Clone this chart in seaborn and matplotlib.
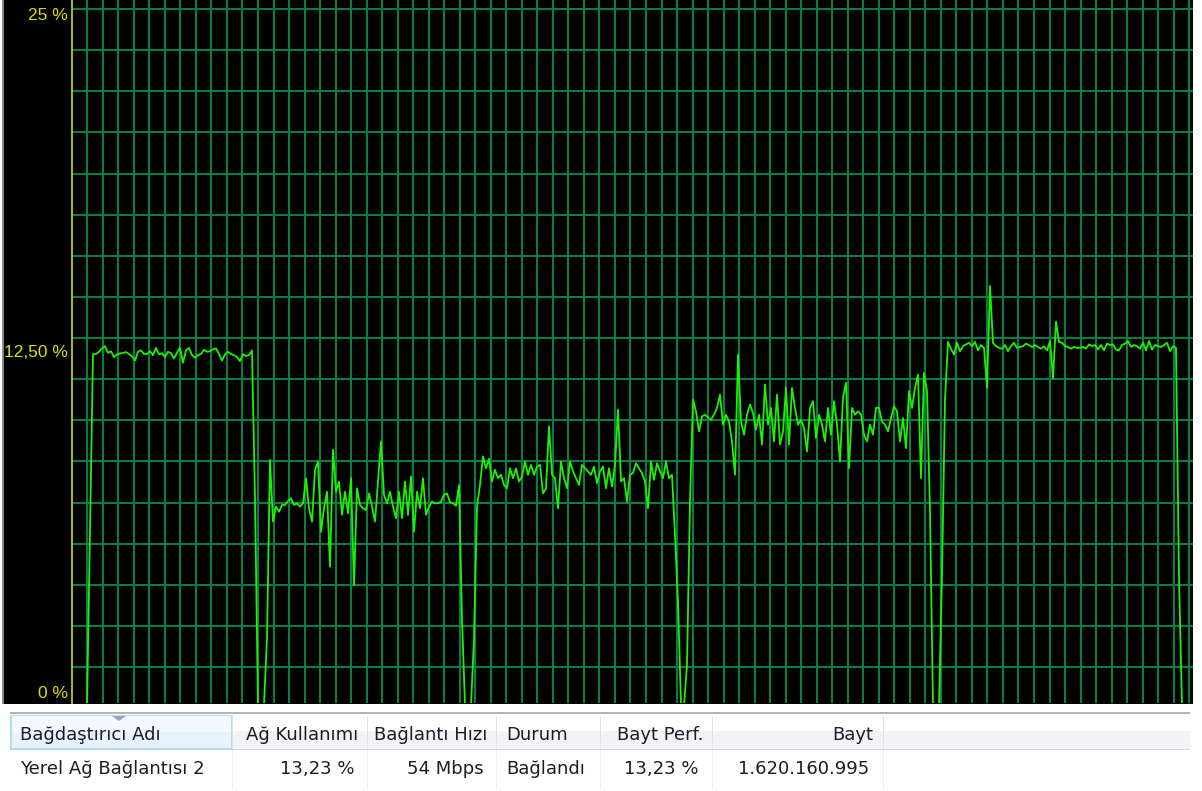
import numpy as np
import matplotlib
matplotlib.use("Agg")
import matplotlib.pyplot as plt
from matplotlib.patches import Rectangle, Polygon
import seaborn as sns
import pandas as pd

# Network utilisation history (percent of link speed), sampled at a fixed rate.
lead_in = [0, 0, 0, 0, 0, 0, 6.2]
plateau_1 = [
    12.45, 12.45, 12.53, 12.65, 12.73, 12.49, 12.55, 12.34, 12.44, 12.47,
    12.49, 12.52, 12.45, 12.37, 12.22, 12.53, 12.58, 12.45, 12.45, 12.55,
    12.41, 12.67, 12.44, 12.48, 12.34, 12.53, 12.48, 12.29, 12.50, 12.67,
    12.14, 12.58, 12.67, 12.41, 12.32, 12.41, 12.45, 12.60, 12.53, 12.55,
    12.62, 12.65, 12.45, 12.22, 12.44, 12.53, 12.45, 12.41, 12.34, 12.20,
    12.44, 12.38, 12.41, 12.58,
]
gap_1 = [7.33, 0.0, 0.0, 0.0, 2.42, 8.7]
plateau_2 = [
    6.51, 7.04, 6.86, 7.10, 7.10, 7.24, 7.34, 7.10, 7.16, 7.04,
    7.16, 8.05, 6.98, 6.51, 8.35, 8.64, 6.15, 6.98, 7.57, 4.91,
    9.06, 7.57, 7.93, 6.75, 7.57, 6.80, 8.05, 4.26, 7.69, 7.10,
    6.98, 6.92, 7.51, 7.04, 6.51, 7.93, 9.35, 7.46, 7.16, 7.57,
    7.04, 6.63, 7.57, 6.63, 7.93, 6.75, 8.11, 6.15, 7.57, 6.98,
    8.05, 6.75, 7.04, 7.22, 7.16, 7.16, 7.22, 7.46, 7.51, 7.20,
    7.16, 7.07, 7.80,
]
gap_2 = [3.06, 0.0, 0.0, 0.0, 2.35]
plateau_3 = [
    7.04, 7.81, 8.82, 8.40, 8.74, 7.93, 8.35, 8.05, 8.17, 7.81,
    7.69, 8.40, 8.05, 8.40, 7.93, 8.11, 8.64, 8.17, 8.52, 8.17,
    8.46, 8.52, 7.51, 7.69, 9.89, 8.17, 8.05, 6.98, 8.64, 8.05,
    7.69, 8.64, 8.29, 8.05, 7.81, 8.52, 8.40, 8.29, 8.17, 8.46,
    7.87, 8.29, 8.46, 7.69, 8.40, 7.75, 8.52, 10.48, 7.93, 8.05,
    7.22, 8.17, 8.23, 8.58, 8.40, 8.23, 7.93, 6.98, 8.64, 7.99,
    8.58, 8.29, 8.05, 8.64, 8.05, 8.17,
]
gap_3 = [6.03, 3.66, 0.0, 0.0, 1.42, 7.22]
plateau_4 = [
    10.84, 10.42, 9.71, 10.24, 10.30, 10.20, 10.12, 10.30, 10.54, 11.01,
    9.95, 10.30, 10.06, 9.35, 8.17, 12.43, 10.06, 9.59, 10.30, 10.66,
    10.36, 9.77, 10.30, 9.24, 11.37, 9.95, 10.54, 9.35, 11.01, 9.24,
    9.71, 11.25, 9.24, 11.25, 10.54, 9.95, 10.12, 9.83, 8.99, 10.54,
    10.78, 9.47, 10.30, 9.95, 9.35, 10.54, 9.59, 10.78, 9.95, 8.64,
    10.90, 11.43, 8.40, 10.54, 10.30, 10.42, 10.30, 9.59, 9.35, 9.95,
    9.59, 10.54, 10.54, 10.06, 9.95, 9.71, 10.18, 10.60, 10.42, 9.35,
    10.18, 9.11, 11.13, 10.54, 11.25, 11.72, 8.05, 11.78, 11.13,
]
gap_4 = [6.86, 0.0, 0.0, 0.0, 4.62, 10.85]
plateau_5 = [
    12.88, 12.64, 12.43, 12.85, 12.55, 12.73, 12.79, 12.85, 12.73, 12.88,
    12.58, 12.77, 12.67, 11.25, 14.86, 12.85, 12.73, 12.67, 12.64, 12.77,
    12.55, 12.73, 12.85, 12.67, 12.70, 12.73, 12.82, 12.77, 12.70, 12.77,
    12.70, 12.64, 12.72, 12.58, 12.91, 11.60, 13.60, 12.88, 12.85, 12.73,
    12.70, 12.64, 12.70, 12.67, 12.67, 12.70, 12.64, 12.79, 12.73, 12.77,
    12.61, 12.77, 12.58, 12.82, 12.77, 12.79, 12.61, 12.58, 12.77, 12.82,
    12.91, 12.70, 12.77, 12.73, 12.64, 12.85, 12.58, 12.91, 12.61, 12.77,
    12.73, 12.70, 12.77, 12.85, 12.55, 12.73, 12.67,
]
tail = [4.5, 0, 0, 0, 0]

scale_labels = ["25 %", "12,50 %", "0 %"]
scale_values = [25, 12.5, 0]

columns = ["Bağdaştırıcı Adı", "Ağ Kullanımı", "Bağlantı Hızı", "Durum", "Bayt Perf.", "Bayt"]
row_values = ["Yerel Ağ Bağlantısı 2", "13,23 %", "54 Mbps", "Bağlandı", "13,23 %", "1.620.160.995"]

usage = np.concatenate([lead_in, plateau_1, gap_1, plateau_2, gap_2, plateau_3,
                        gap_3, plateau_4, gap_4, plateau_5, tail])
df = pd.DataFrame({"sample": np.arange(len(usage)), "usage": usage})

# ---------------------------------------------------------------- layout
W, H = 1202, 791
sns.set_style("white")
plt.rcParams["font.family"] = ["DejaVu Sans"]

fig = plt.figure(figsize=(W / 100, H / 100), dpi=100)
fig.patch.set_facecolor("white")


def fx(px):
    return px / W


def fy(py):
    return 1 - py / H


# black monitor panel (behind the graph axes)
fig.patches.append(Rectangle((fx(4), fy(704)), fx(1193) - fx(4), 704 / H,
                             transform=fig.transFigure, facecolor="black",
                             edgecolor="none", zorder=-2))
fig.patches.append(Rectangle((fx(2), fy(704)), fx(2), 704 / H,
                             transform=fig.transFigure, facecolor="#8a8a8a",
                             edgecolor="none", zorder=-2))

px_per_sample = 3.0
graph_left, graph_right, graph_bottom = 72, 1193, 703
ax = fig.add_axes([fx(graph_left), fy(graph_bottom), fx(graph_right) - fx(graph_left), graph_bottom / H])
ax.set_zorder(1)
ax.set_facecolor("black")
ax.set_xlim(0, (graph_right - graph_left) / px_per_sample)
# the zero level sits just under the visible floor of the graph
ax.set_ylim(0.08, 25)

# fixed grid cells: 41 px tall, 15.5 px wide
cell_h_pct = 41 / graph_bottom * 25
h_lines = 25 - (9 / graph_bottom * 25) - cell_h_pct * np.arange(17)
cell_w = 15.52 / px_per_sample
v_lines = (87.3 - graph_left) / px_per_sample + cell_w * np.arange(72)
ax.set_yticks(h_lines)
ax.set_xticks(v_lines)
ax.set_xticklabels([])
ax.set_yticklabels([])
ax.tick_params(length=0)
ax.grid(True, color="#0a7d47", linewidth=1.5)

sns.lineplot(data=df, x="sample", y="usage", ax=ax, color="#1cf200",
             linewidth=1.3, zorder=5)
ax.set_xlabel("")
ax.set_ylabel("")

for s in ["top", "right", "bottom"]:
    ax.spines[s].set_visible(False)
ax.spines["left"].set_color("#c8c800")
ax.spines["left"].set_linewidth(1.3)

# scale labels left of the graph
px_pct = 25 / graph_bottom
lab_va = ["top", "center", "bottom"]
lab_shift = [-8 * px_pct, 0, 4 * px_pct]
for lab, val, va, dy in zip(scale_labels, scale_values, lab_va, lab_shift):
    ax.text(-4 / (graph_right - graph_left), val + dy, lab, transform=ax.get_yaxis_transform(),
            ha="right", va=va, color="#dede00", fontsize=12.5,
            family=["Liberation Sans", "DejaVu Sans"], clip_on=False)

# ---------------------------------------------------------------- adapter list
tab_left, tab_right = 10, 1190
fig.patches.append(Rectangle((fx(tab_left), fy(714)), fx(tab_right) - fx(tab_left), 2 / H,
                             transform=fig.transFigure, facecolor="#b4b4b4", edgecolor="none"))
# header band: white top, light grey lower half
fig.patches.append(Rectangle((fx(tab_left), fy(749)), fx(tab_right) - fx(tab_left), 18 / H,
                             transform=fig.transFigure, facecolor="#f1f3f6", edgecolor="none"))
fig.patches.append(Rectangle((fx(tab_left), fy(750)), fx(tab_right) - fx(tab_left), 1.5 / H,
                             transform=fig.transFigure, facecolor="#d8dadd", edgecolor="none"))
# sorted column header
fig.patches.append(Rectangle((fx(tab_left + 1), fy(749)), fx(232) - fx(tab_left + 1), 33 / H,
                             transform=fig.transFigure, facecolor="#e6f2fc",
                             edgecolor="#a9d5f3", linewidth=1.2))
fig.patches.append(Rectangle((fx(tab_left + 2), fy(732)), fx(231) - fx(tab_left + 2), 16 / H,
                             transform=fig.transFigure, facecolor="#f3f9fe", edgecolor="none"))
fig.patches.append(Polygon([(fx(112), fy(716)), (fx(126), fy(716)), (fx(119), fy(721))],
                           closed=True, transform=fig.transFigure,
                           facecolor="#8fa6bd", edgecolor="none"))

col_edges = [232, 367, 496, 600, 712, 883]
for e in col_edges:
    fig.patches.append(Rectangle((fx(e), fy(749)), 1.2 / W, 33 / H,
                                 transform=fig.transFigure, facecolor="#dfe2e6", edgecolor="none"))
    fig.patches.append(Rectangle((fx(e), fy(790)), 1.2 / W, 40 / H,
                                 transform=fig.transFigure, facecolor="#eef2f8", edgecolor="none"))

# text anchors (x pixel, alignment)
header_pos = [(20, "left"), (358, "right"), (487, "right"), (506, "left"), (703, "right"), (873, "right")]
row_pos = [(20, "left"), (354, "right"), (484, "right"), (506, "left"), (699, "right"), (869, "right")]
txt_color = "#1c1c28"
for lab, (x, ha) in zip(columns, header_pos):
    fig.text(fx(x), fy(735), lab, ha=ha, va="center", fontsize=13, color=txt_color)
for lab, (x, ha) in zip(row_values, row_pos):
    fig.text(fx(x), fy(769), lab, ha=ha, va="center", fontsize=13, color=txt_color)

fig.savefig("out.png", dpi=100, facecolor="white")
